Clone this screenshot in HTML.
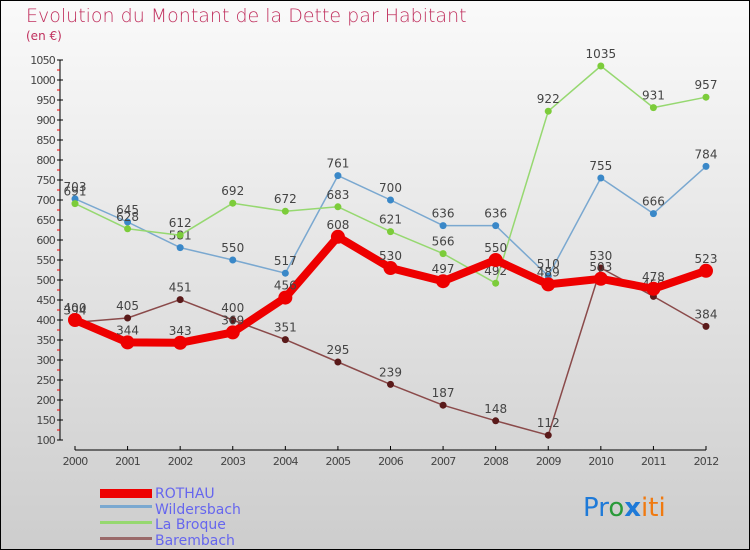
<!DOCTYPE html>
<html><head><meta charset="utf-8"><style>
body{margin:0}
#c{width:750px;height:550px;position:relative;overflow:hidden;font-family:"DejaVu Sans","Liberation Sans",sans-serif}
</style></head><body>
<div id="c">
<svg id="s" width="750" height="550" xmlns="http://www.w3.org/2000/svg">
<defs><linearGradient id="bg" x1="0" y1="0" x2="0" y2="1"><stop offset="0" stop-color="#fafafa"/><stop offset="1" stop-color="#cdcdcd"/></linearGradient></defs>
<rect x="0.5" y="0.5" width="749" height="549" fill="url(#bg)" stroke="#000"/>
<text x="26" y="22" font-size="19" fill="#c0305e" font-weight="300">Evolution du Montant de la Dette par Habitant</text>
<text x="26" y="40" font-size="12" fill="#c0305e">(en €)</text>
<g id="axes"></g><g id="series"></g>
<g>
<rect x="100" y="489" width="52" height="9" fill="#e00"/>
<text x="155" y="498" font-size="14" fill="#6666ee">ROTHAU</text>
<rect x="100" y="505" width="52" height="3" fill="#7aa8d0"/>
<text x="155" y="514" font-size="14" fill="#6666ee">Wildersbach</text>
<rect x="100" y="521" width="52" height="3" fill="#96d870"/>
<text x="155" y="529" font-size="14" fill="#6666ee">La Broque</text>
<rect x="100" y="537" width="52" height="3" fill="#9a6a6a"/>
<text x="155" y="545" font-size="14" fill="#6666ee">Barembach</text>
</g>
<text x="583" y="516" font-size="26" font-family="'DejaVu Sans',sans-serif"><tspan fill="#1e7ad8">Pr</tspan><tspan fill="#2a9a3a">o</tspan><tspan fill="#1e7ad8" font-weight="bold">x</tspan><tspan fill="#f07a10">iti</tspan></text>
</svg></div>
<script>
const years=[2000,2001,2002,2003,2004,2005,2006,2007,2008,2009,2010,2011,2012];
const rothau=[400,344,343,369,456,608,530,497,550,489,503,478,523];
const wildersbach=[703,645,581,550,517,761,700,636,636,510,755,666,784];
const laBroque=[691,628,612,692,672,683,621,566,492,922,1035,931,957];
const barembach=[394,405,451,400,351,295,239,187,148,112,530,459,384];
const yTicks=[100,150,200,250,300,350,400,450,500,550,600,650,700,750,800,850,900,950,1000,1050];
const NS="http://www.w3.org/2000/svg";
const x=i=>75+i*(706-75)/(years.length-1);
const y=v=>440-(v-100)*380/950;
function mk(t,a,p){const e=document.createElementNS(NS,t);for(const k in a)e.setAttribute(k,a[k]);p.appendChild(e);return e;}
const ax=document.getElementById('axes');
const ya=mk('line',{x1:60,y1:60,x2:60,y2:440,stroke:'#000'},ax);


yTicks.forEach(v=>{mk('line',{x1:57,x2:63,y1:y(v),y2:y(v),stroke:'#000'},ax);
 if(v<1050)mk('line',{x1:57,x2:60,y1:y(v+25),y2:y(v+25),stroke:'#e00'},ax);
 const t=mk('text',{x:55,y:y(v)+4,'text-anchor':'end','font-size':11,fill:'#444','letter-spacing':'-0.8'},ax);t.textContent=v;
 
 });
const xa=mk('line',{x1:75,y1:450,x2:706,y2:450,stroke:'#000'},ax);


years.forEach((yr,i)=>{mk('line',{x1:x(i),x2:x(i),y1:446,y2:450,stroke:'#000'},ax);
 const t=mk('text',{x:x(i),y:465,'text-anchor':'middle','font-size':11,fill:'#444','letter-spacing':'-0.8'},ax);t.textContent=yr;
 
 });
const sg=document.getElementById('series');
function draw(data,name,color,dot,w,r){const g=mk('g',{},sg);
 
 
 mk('polyline',{points:data.map((v,i)=>x(i)+','+y(v)).join(' '),fill:'none',stroke:color,'stroke-width':w,'stroke-linejoin':'round'},g);
 data.forEach((v,i)=>{const c=mk('circle',{cx:x(i),cy:y(v),r:r,fill:dot},g);
  
  
  const t=mk('text',{x:x(i),y:y(v)-8,'text-anchor':'middle','font-size':12,fill:'#444'},g);t.textContent=v;
  
  });}
draw(wildersbach,'wildersbach','#7aa8d0','#3a88c8',1.5,3.5);
draw(laBroque,'la-broque','#96d870','#7ccc3a',1.5,3.5);
draw(barembach,'barembach','#8a4a4a','#5a1a1a',1.5,3.5);
draw(rothau,'rothau','#e00','#e00',8,7);
</script></body></html>
